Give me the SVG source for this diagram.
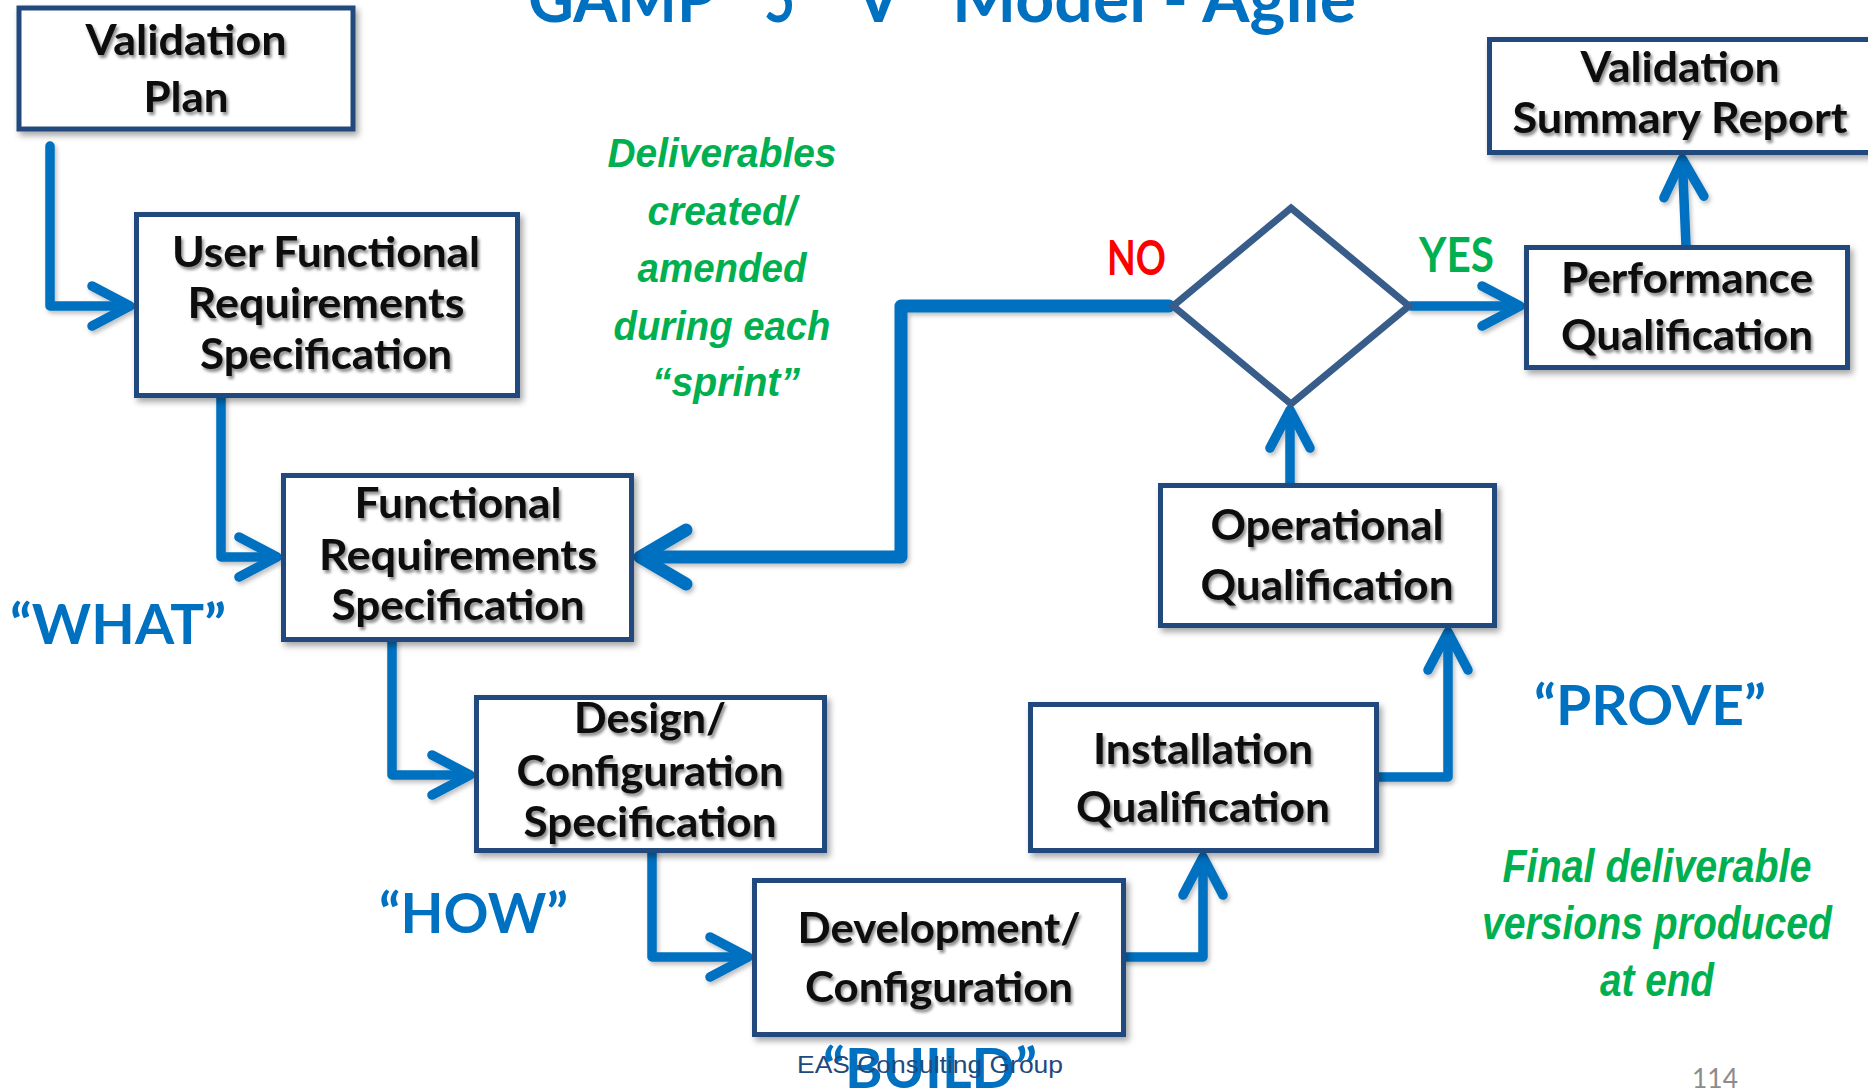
<svg xmlns="http://www.w3.org/2000/svg" xmlns:xlink="http://www.w3.org/1999/xlink" width="1868" height="1091" viewBox="0 0 1868 1091">
  <defs>
    <style>
      .box { fill: #ffffff; stroke: #234A7D; stroke-width: 5; }
      .diamond { fill: #ffffff; stroke: #385D8A; stroke-width: 7; stroke-linejoin: miter; }
      .label { font-family: Lato, "Liberation Sans", sans-serif; font-weight: 700; font-size: 42px; fill: #0a0a0a; text-anchor: middle; }
      .link { fill: none; stroke: #0070C0; stroke-width: 9.5; stroke-linecap: round; stroke-linejoin: round; }
      .link-thick { fill: none; stroke: #0070C0; stroke-width: 13; stroke-linecap: round; stroke-linejoin: round; }
      .title { font-family: Lato, "Liberation Sans", sans-serif; font-weight: 700; font-size: 66px; fill: #0070C0; }
      .phase { font-family: Lato, "Liberation Sans", sans-serif; font-weight: 700; font-size: 56px; fill: #0070C0; }
      .note { font-family: "Liberation Sans", Arial, sans-serif; font-weight: 700; font-style: italic; fill: #00B050; text-anchor: middle; }
      .decision { font-family: Lato, "Liberation Sans", sans-serif; font-weight: 700; font-size: 48px; }
      .footer { font-family: "Liberation Sans", Arial, sans-serif; font-size: 24px; fill: #1F497D; }
      .page { font-family: Lato, "Liberation Sans", sans-serif; font-size: 26px; fill: #8C8C8C; }
    </style>
    <filter id="boxShadow" x="-10%" y="-10%" width="125%" height="130%">
      <feDropShadow dx="3" dy="4" stdDeviation="3" flood-color="#000000" flood-opacity="0.35"/>
    </filter>
    <filter id="textShadow" x="-5%" y="-20%" width="115%" height="150%">
      <feDropShadow dx="2" dy="3" stdDeviation="1.6" flood-color="#000000" flood-opacity="0.45"/>
    </filter>
    <filter id="lineShadow" x="-5%" y="-5%" width="115%" height="115%">
      <feDropShadow dx="2" dy="3" stdDeviation="2" flood-color="#000000" flood-opacity="0.25"/>
    </filter>
    <marker id="chev" viewBox="-60 -40 80 80" refX="-5" refY="0" markerWidth="80" markerHeight="80" orient="auto" markerUnits="userSpaceOnUse" overflow="visible">
      <path d="M-38,-20 L0,0 L-38,20" fill="none" stroke="#0070C0" stroke-width="9.5" stroke-linecap="round" stroke-linejoin="round"/>
    </marker>
    <marker id="chevBig" viewBox="-60 -40 80 80" refX="-5" refY="0" markerWidth="80" markerHeight="80" orient="auto" markerUnits="userSpaceOnUse" overflow="visible">
      <path d="M-46,-27 L0,0 L-46,27" fill="none" stroke="#0070C0" stroke-width="13" stroke-linecap="round" stroke-linejoin="round"/>
    </marker>
  </defs>

  <rect width="1868" height="1091" fill="#ffffff"/>

  <!-- heading, clipped at the top of the page -->
  <text class="title" y="22">
    <tspan x="528" textLength="188" lengthAdjust="spacingAndGlyphs">GAMP</tspan><tspan font-size="30" dy="-34">®</tspan>
    <tspan x="764" dy="34" textLength="31" lengthAdjust="spacingAndGlyphs">5</tspan>
    <tspan x="830">“V”</tspan>
    <tspan x="952" textLength="404" lengthAdjust="spacingAndGlyphs">Model - Agile</tspan>
  </text>

  <!-- connectors -->
  <g id="connectors" filter="url(#lineShadow)">
    <path id="vp-urs" class="link" d="M50,146 V306 H125" marker-end="url(#chev)"/>
    <path id="urs-frs" class="link" d="M221,397 V557 H272" marker-end="url(#chev)"/>
    <path id="frs-dcs" class="link" d="M392,641 V775 H465" marker-end="url(#chev)"/>
    <path id="dcs-dev" class="link" d="M652,851 V957 H743" marker-end="url(#chev)"/>
    <path id="dev-iq" class="link" d="M1125,957 H1203 V862" marker-end="url(#chev)"/>
    <path id="iq-oq" class="link" d="M1378,777 H1448 V637" marker-end="url(#chev)"/>
    <path id="oq-dec" class="link" d="M1290,484 V415" marker-end="url(#chev)"/>
    <path id="dec-pq" class="link" d="M1411,306 H1515" marker-end="url(#chev)"/>
    <path id="pq-vsr" class="link" d="M1686,246 L1682.5,164" marker-end="url(#chev)"/>
    <path id="dec-frs" class="link-thick" d="M1169,306 H901 V557 H645" marker-end="url(#chevBig)"/>
  </g>

  <!-- nodes -->
  <g id="validation-plan">
    <rect class="box" x="19" y="8" width="334" height="121" filter="url(#boxShadow)"/>
    <g class="label" filter="url(#textShadow)">
      <text x="186" y="55" textLength="201" lengthAdjust="spacingAndGlyphs">Validation</text>
      <text x="186" y="112" textLength="85" lengthAdjust="spacingAndGlyphs">Plan</text>
    </g>
  </g>

  <g id="user-functional-requirements">
    <rect class="box" x="136.5" y="214.5" width="381" height="181" filter="url(#boxShadow)"/>
    <g class="label" filter="url(#textShadow)">
      <text x="326" y="267" textLength="308" lengthAdjust="spacingAndGlyphs">User Functional</text>
      <text x="326" y="318" textLength="277" lengthAdjust="spacingAndGlyphs">Requirements</text>
      <text x="326" y="369" textLength="252" lengthAdjust="spacingAndGlyphs">Specification</text>
    </g>
  </g>

  <g id="functional-requirements">
    <rect class="box" x="283.5" y="475.5" width="348" height="164" filter="url(#boxShadow)"/>
    <g class="label" filter="url(#textShadow)">
      <text x="458" y="518" textLength="207" lengthAdjust="spacingAndGlyphs">Functional</text>
      <text x="458" y="570" textLength="278" lengthAdjust="spacingAndGlyphs">Requirements</text>
      <text x="458" y="620" textLength="253" lengthAdjust="spacingAndGlyphs">Specification</text>
    </g>
  </g>

  <g id="design-configuration">
    <rect class="box" x="476.5" y="697.5" width="348" height="153" filter="url(#boxShadow)"/>
    <g class="label" filter="url(#textShadow)">
      <text x="650" y="733" textLength="152" lengthAdjust="spacingAndGlyphs">Design/</text>
      <text x="650" y="786" textLength="267" lengthAdjust="spacingAndGlyphs">Configuration</text>
      <text x="650" y="837" textLength="253" lengthAdjust="spacingAndGlyphs">Specification</text>
    </g>
  </g>

  <g id="development-configuration">
    <rect class="box" x="754.5" y="880.5" width="369" height="154" filter="url(#boxShadow)"/>
    <g class="label" filter="url(#textShadow)">
      <text x="939" y="943" textLength="283" lengthAdjust="spacingAndGlyphs">Development/</text>
      <text x="939" y="1002" textLength="268" lengthAdjust="spacingAndGlyphs">Configuration</text>
    </g>
  </g>

  <g id="installation-qualification">
    <rect class="box" x="1030.5" y="704.5" width="346" height="146" filter="url(#boxShadow)"/>
    <g class="label" filter="url(#textShadow)">
      <text x="1203" y="764" textLength="220" lengthAdjust="spacingAndGlyphs">Installation</text>
      <text x="1203" y="822" textLength="254" lengthAdjust="spacingAndGlyphs">Qualification</text>
    </g>
  </g>

  <g id="operational-qualification">
    <rect class="box" x="1160.5" y="485.5" width="334" height="140" filter="url(#boxShadow)"/>
    <g class="label" filter="url(#textShadow)">
      <text x="1327" y="540" textLength="233" lengthAdjust="spacingAndGlyphs">Operational</text>
      <text x="1327" y="600" textLength="253" lengthAdjust="spacingAndGlyphs">Qualification</text>
    </g>
  </g>

  <g id="decision">
    <polygon class="diamond" points="1291,208 1409,306 1291,404 1173,306"/>
  </g>

  <g id="performance-qualification">
    <rect class="box" x="1526.5" y="247.5" width="321" height="120" filter="url(#boxShadow)"/>
    <g class="label" filter="url(#textShadow)">
      <text x="1687" y="293" textLength="252" lengthAdjust="spacingAndGlyphs">Performance</text>
      <text x="1687" y="350" textLength="252" lengthAdjust="spacingAndGlyphs">Qualification</text>
    </g>
  </g>

  <g id="validation-summary-report">
    <rect class="box" x="1489.5" y="39.5" width="381" height="113" filter="url(#boxShadow)"/>
    <g class="label" filter="url(#textShadow)">
      <text x="1680" y="82" textLength="199" lengthAdjust="spacingAndGlyphs">Validation</text>
      <text x="1680" y="133" textLength="335" lengthAdjust="spacingAndGlyphs">Summary Report</text>
    </g>
  </g>

  <!-- branch labels -->
  <text class="decision" x="1107" y="275" fill="#FF0000" textLength="59" lengthAdjust="spacingAndGlyphs">NO</text>
  <text class="decision" x="1419" y="272" fill="#00B050" textLength="75" lengthAdjust="spacingAndGlyphs">YES</text>

  <!-- phase captions -->
  <text class="phase" x="10" y="644" textLength="216" lengthAdjust="spacingAndGlyphs">“WHAT”</text>
  <text class="phase" x="379" y="933" textLength="189" lengthAdjust="spacingAndGlyphs">“HOW”</text>
  <text class="phase" x="1534" y="725" textLength="232" lengthAdjust="spacingAndGlyphs">“PROVE”</text>
  <text class="phase" x="823" y="1088" textLength="214" lengthAdjust="spacingAndGlyphs">“BUILD”</text>

  <!-- notes -->
  <g class="note" font-size="41">
    <text x="722" y="167" textLength="229" lengthAdjust="spacingAndGlyphs">Deliverables</text>
    <text x="722" y="225" textLength="149" lengthAdjust="spacingAndGlyphs">created/</text>
    <text x="722" y="282" textLength="169" lengthAdjust="spacingAndGlyphs">amended</text>
    <text x="722" y="340" textLength="217" lengthAdjust="spacingAndGlyphs">during each</text>
    <text x="726" y="396" textLength="148" lengthAdjust="spacingAndGlyphs">“sprint”</text>
  </g>
  <g class="note" font-size="46">
    <text x="1657" y="882" textLength="309" lengthAdjust="spacingAndGlyphs">Final deliverable</text>
    <text x="1657" y="939" textLength="350" lengthAdjust="spacingAndGlyphs">versions produced</text>
    <text x="1657" y="996" textLength="114" lengthAdjust="spacingAndGlyphs">at end</text>
  </g>

  <!-- footer -->
  <text class="footer" x="797" y="1073" textLength="266" lengthAdjust="spacingAndGlyphs">EAS Consulting Group</text>
  <text class="page" x="1692" y="1088" textLength="46" lengthAdjust="spacingAndGlyphs">114</text>
</svg>
